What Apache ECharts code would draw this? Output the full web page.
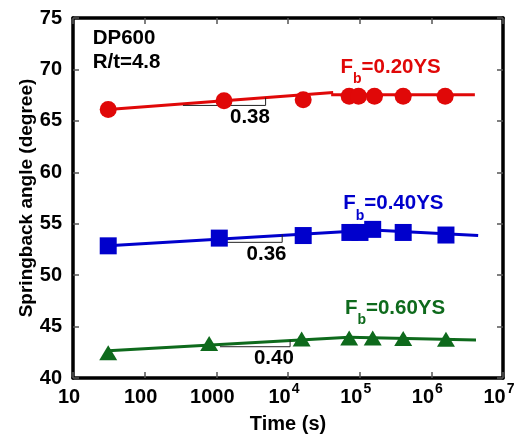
<!DOCTYPE html>
<html><head><meta charset="utf-8">
<script src="https://cdn.jsdelivr.net/npm/echarts@6/dist/echarts.min.js"></script>
<style>html,body{margin:0;padding:0;background:#fff}#c{width:518px;height:435px}</style>
</head><body><div id="c"></div>
<script>
// ---- data ----
const timeRed = [31, 1280, 16300, 71400, 96400, 161000, 405000, 1560000];
const angleRed = [66.1, 66.95, 67.05, 67.4, 67.4, 67.4, 67.4, 67.4];
const timeBlue = [31, 1100, 16300, 73000, 101000, 152000, 405000, 1600000];
const angleBlue = [52.85, 53.6, 53.85, 54.15, 54.15, 54.45, 54.15, 53.9];
const timeGreen = [31, 794, 15500, 71400, 152000, 405000, 1600000];
const angleGreen = [42.45, 43.35, 43.8, 43.9, 43.9, 43.85, 43.77];

const fitRedA = [[31, 66.1], [42700, 67.75]];
const fitRedB = [[40000, 67.55], [4050000, 67.55]];
const fitBlueA = [[31, 52.85], [152000, 54.4]];
const fitBlueB = [[152000, 54.4], [4500000, 53.85]];
const fitGreenA = [[31, 42.65], [71400, 43.95]];
const fitGreenB = [[71400, 43.95], [4200000, 43.7]];

const slopeRed = [[342, 66.5], [4870, 66.5], [4870, 67.25]];
const slopeBlue = [[906, 53.19], [8300, 53.19], [8300, 53.95]];
const slopeGreen = [[1122, 43.04], [10700, 43.04], [10700, 43.7]];
const slopeLabels = ['0.38', '0.36', '0.40'];
const slopeLabelPos = [[2945, 65.33], [5020, 52.05], [6350, 41.91]];

const seriesLabels = ['0.20YS', '0.40YS', '0.60YS'];
const seriesLabelPos = [[54000, 70.2], [58900, 56.95], [62200, 46.75]];
const infoLabels = ['DP600', 'R/t=4.8'];
const infoLabelPos = [[18.8, 73.0], [18.8, 70.68]];

const xTickValues = [10, 100, 1000, 1e4, 1e5, 1e6, 1e7];
const xTickLabels = ['10', '100', '1000', '10^4', '10^5', '10^6', '10^7'];
const yMin = 40, yMax = 75, yStep = 5;

// ---- style ----
const FONT = "'Liberation Sans', Arial, sans-serif";
const RED = '#e00808', BLUE = '#0000cc', GREEN = '#0e6a1c';
const zip = (xs, ys) => xs.map((x, i) => [x, ys[i]]);

function fmtX(v) {
  let idx = xTickValues.findIndex(t => Math.abs(Math.log10(t) - Math.log10(v)) < 1e-6);
  if (idx < 0) return '';
  const s = xTickLabels[idx];
  if (s.indexOf('^') >= 0) {
    const p = s.split('^');
    return '{b|' + p[0] + '}{sup|' + p[1] + '}';
  }
  return '{b|' + s + '}';
}

function fitLine(data, color) {
  return { type: 'line', data: data, symbol: 'none', silent: true, z: 2,
    lineStyle: { color: color, width: 3 } };
}
function slopeLine(data) {
  return { type: 'line', data: data, symbol: 'none', silent: true, z: 2,
    lineStyle: { color: '#222', width: 1 } };
}
function marks(data, color, symbol, size) {
  return { type: 'scatter', data: data, symbol: symbol, symbolSize: size, z: 3,
    itemStyle: { color: color, opacity: 1 } };
}
function richFor(color) {
  return {
    t: { fontFamily: FONT, fontWeight: 'bold', fontSize: 20.5, color: color },
    s: { fontFamily: FONT, fontWeight: 'bold', fontSize: 14, color: color, padding: [24, 0, 0, 0] }
  };
}
function textAt(pos, formatter, color, position) {
  return { type: 'scatter', data: [pos], symbolSize: 0, silent: true, z: 4,
    itemStyle: { color: color },
    label: { show: true, position: position, distance: 0, formatter: formatter,
      color: color, fontFamily: FONT, fontWeight: 'bold', fontSize: 20,
      textBorderWidth: 0, textShadowBlur: 0, opacity: 1, rich: richFor(color) } };
}

const tickStyle = { show: true, inside: true, length: 6, lineStyle: { color: '#555', width: 1.5 } };
const frameLine = { show: true, lineStyle: { color: '#000', width: 3.5 } };

const chart = echarts.init(document.getElementById('c'), null, { renderer: 'canvas' });
chart.setOption({
  animation: false,
  backgroundColor: '#fff',
  grid: { left: 73, right: 15, top: 18, bottom: 57, show: false, containLabel: false, outerBoundsMode: 'none' },
  xAxis: [{
    type: 'log', logBase: 10, min: 10, max: 1e7, splitNumber: 6,
    name: 'Time (s)', nameLocation: 'middle', nameGap: 36, nameMoveOverlap: false,
    nameTextStyle: { fontFamily: FONT, fontWeight: 'bold', fontSize: 20, color: '#000' },
    axisLine: frameLine, axisTick: tickStyle, splitLine: { show: false }, minorTick: { show: false },
    axisLabel: { margin: -1, formatter: fmtX, padding: [0, 8, 0, 0],
      rich: {
        b: { fontFamily: FONT, fontWeight: 'bold', fontSize: 20, color: '#000', lineHeight: 40 },
        sup: { fontFamily: FONT, fontWeight: 'bold', fontSize: 14, color: '#000', lineHeight: 24, padding: [0, 0, 16, 1] }
      } }
  }, {
    type: 'log', logBase: 10, min: 10, max: 1e7, splitNumber: 6, position: 'top',
    axisLine: frameLine, axisTick: tickStyle, axisLabel: { show: false }, splitLine: { show: false }
  }],
  yAxis: [{
    type: 'value', min: yMin, max: yMax, interval: yStep,
    name: 'Springback angle (degree)', nameLocation: 'middle', nameGap: 37, nameMoveOverlap: false,
    nameTextStyle: { fontFamily: FONT, fontWeight: 'bold', fontSize: 19, color: '#000' },
    axisLine: frameLine, axisTick: tickStyle, splitLine: { show: false },
    axisLabel: { margin: 11, fontFamily: FONT, fontWeight: 'bold', fontSize: 20, color: '#000' }
  }, {
    type: 'value', min: yMin, max: yMax, interval: yStep, position: 'right',
    axisLine: frameLine, axisTick: tickStyle, axisLabel: { show: false }, splitLine: { show: false }
  }],
  series: [
    fitLine(fitRedA, RED), fitLine(fitRedB, RED),
    fitLine(fitBlueA, BLUE), fitLine(fitBlueB, BLUE),
    fitLine(fitGreenA, GREEN), fitLine(fitGreenB, GREEN),
    slopeLine(slopeRed), slopeLine(slopeBlue), slopeLine(slopeGreen),
    marks(zip(timeRed, angleRed), RED, 'circle', 17),
    marks(zip(timeBlue, angleBlue), BLUE, 'rect', 17),
    marks(zip(timeGreen, angleGreen), GREEN, 'triangle', [18, 15]),
    textAt(slopeLabelPos[0], '{t|' + slopeLabels[0] + '}', '#000', 'inside'),
    textAt(slopeLabelPos[1], '{t|' + slopeLabels[1] + '}', '#000', 'inside'),
    textAt(slopeLabelPos[2], '{t|' + slopeLabels[2] + '}', '#000', 'inside'),
    textAt(infoLabelPos[0], '{t|' + infoLabels[0] + '}', '#000', 'right'),
    textAt(infoLabelPos[1], '{t|' + infoLabels[1] + '}', '#000', 'right'),
    textAt(seriesLabelPos[0], '{t|F}{s|b}{t|=' + seriesLabels[0] + '}', RED, 'right'),
    textAt(seriesLabelPos[1], '{t|F}{s|b}{t|=' + seriesLabels[1] + '}', BLUE, 'right'),
    textAt(seriesLabelPos[2], '{t|F}{s|b}{t|=' + seriesLabels[2] + '}', GREEN, 'right')
  ]
});
</script></body></html>
